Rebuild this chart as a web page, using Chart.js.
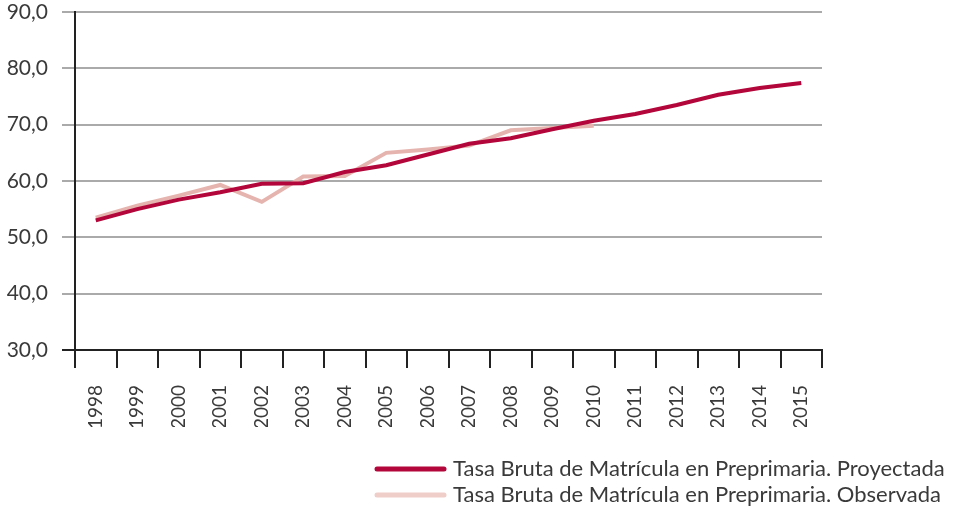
<!DOCTYPE html>
<html>
<head>
<meta charset="utf-8">
<script src="https://cdn.jsdelivr.net/npm/chart.js@4"></script>
<style>
  html, body { margin: 0; padding: 0; background: #fff; }
  #wrap { width: 960px; height: 513px; position: relative; }
</style>
</head>
<body>
<div id="wrap"><canvas id="chart"></canvas></div>
<script>
const years = ['1998','1999','2000','2001','2002','2003','2004','2005','2006','2007','2008','2009','2010','2011','2012','2013','2014','2015'];
const proyectada = [53.0, 55.0, 56.7, 58.0, 59.5, 59.6, 61.6, 62.8, 64.7, 66.6, 67.6, 69.2, 70.7, 71.9, 73.5, 75.3, 76.5, 77.4];
const observada = [53.5, 55.6, 57.4, 59.3, 56.3, 60.8, 60.9, 65.0, 65.6, 66.3, 69.0, 69.4, 69.8, null, null, null, null, null];
const yTicks = [30, 40, 50, 60, 70, 80, 90];

const fontFamily = 'Lato, "Open Sans", sans-serif';
const textColor = '#3a3a3a';

// Legend stacked in two rows under the plot, lines left-aligned
const stackedLegend = {
  id: 'stackedLegend',
  afterDraw(chart) {
    const ctx = chart.ctx;
    const rows = [469, 495];
    ctx.save();
    ctx.font = '22px ' + fontFamily;
    ctx.textBaseline = 'middle';
    ctx.textAlign = 'left';
    chart.data.datasets.forEach((ds, i) => {
      const y = rows[i];
      ctx.strokeStyle = ds.legendColor || ds.borderColor;
      ctx.lineWidth = 5;
      ctx.lineCap = 'round';
      ctx.beginPath();
      ctx.moveTo(377, y);
      ctx.lineTo(444, y);
      ctx.stroke();
      ctx.fillStyle = textColor;
      ctx.fillText(ds.label, 453, y);
    });
    ctx.restore();
  }
};

new Chart(document.getElementById('chart'), {
  type: 'line',
  data: {
    labels: years,
    datasets: [
      {
        label: 'Tasa Bruta de Matrícula en Preprimaria. Proyectada',
        data: proyectada,
        borderColor: '#b3063a',
        backgroundColor: '#b3063a',
        borderWidth: 4,
        pointRadius: 0,
        tension: 0
      },
      {
        label: 'Tasa Bruta de Matrícula en Preprimaria. Observada',
        data: observada,
        borderColor: '#e6b4ae',
        backgroundColor: '#e6b4ae',
        legendColor: '#efcdc9',
        borderWidth: 4,
        pointRadius: 0,
        tension: 0,
        spanGaps: false
      }
    ]
  },
  options: {
    responsive: true,
    maintainAspectRatio: false,
    animation: false,
    layout: { padding: { left: 0, right: 138, top: 12, bottom: 86 } },
    plugins: {
      tooltip: { enabled: false },
      legend: { display: false }
    },
    scales: {
      x: {
        offset: true,
        afterFit: (s) => { s.height = 77; },
        grid: {
          offset: true,
          drawOnChartArea: false,
          drawTicks: true,
          tickLength: 18,
          color: '#222',
          lineWidth: 2
        },
        border: { color: '#222', width: 2 },
        ticks: {
          color: textColor,
          font: { family: fontFamily, size: 19 },
          maxRotation: 90,
          minRotation: 90,
          padding: 17
        }
      },
      y: {
        min: 30,
        max: 90,
        afterBuildTicks: (axis) => { axis.ticks = yTicks.map(v => ({ value: v })); },
        afterFit: (s) => { s.width = 75; s.paddingTop = 0; s.paddingBottom = 0; },
        grid: {
          color: (ctx) => (ctx.tick && ctx.tick.value === 30) ? '#222' : '#aaaaaa',
          lineWidth: 2,
          tickLength: 13
        },
        border: { color: '#222', width: 2 },
        ticks: {
          color: textColor,
          font: { family: fontFamily, size: 21 },
          padding: 14,
          callback: (v) => v.toFixed(1).replace('.', ',')
        }
      }
    }
  },
  plugins: [stackedLegend]
});
</script>
</body>
</html>
